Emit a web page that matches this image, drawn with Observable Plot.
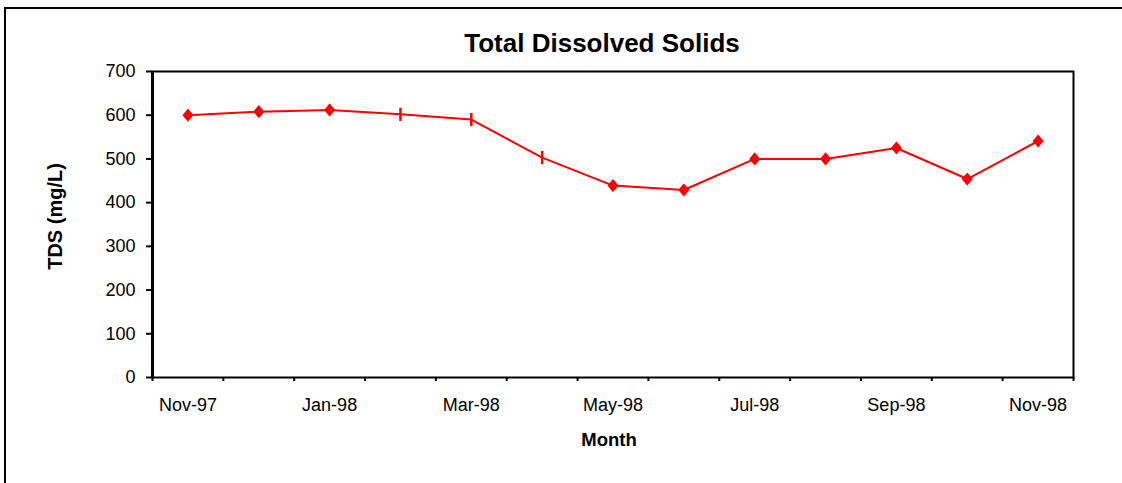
<!DOCTYPE html>
<html>
<head>
<meta charset="utf-8">
<script src="https://cdn.jsdelivr.net/npm/d3@7"></script>
<script src="https://cdn.jsdelivr.net/npm/@observablehq/plot@0.6"></script>
<style>
  html, body { margin: 0; padding: 0; background: #fff; overflow: hidden; }
  #wrap { position: relative; width: 1122px; height: 483px; overflow: hidden; font-family: "Liberation Sans", Arial, sans-serif; }
  #frame { position: absolute; left: 4px; top: 7px; width: 1300px; height: 700px; border-left: 2px solid #000; border-top: 2px solid #000; }
  #title { position: absolute; left: 352px; width: 500px; top: 30px; text-align: center; font-size: 26px; line-height: 1; font-weight: bold; color: #000; }
  #chart { position: absolute; left: 0; top: 0; }
</style>
</head>
<body>
<div id="wrap">
  <div id="frame"></div>
  <div id="chart"></div>
  <div id="title">Total Dissolved Solids</div>
</div>
<script>
const months = ["Nov-97","Dec-97","Jan-98","Feb-98","Mar-98","Apr-98","May-98","Jun-98","Jul-98","Aug-98","Sep-98","Oct-98","Nov-98"];
const tds = [600, 608, 612, 602, 590, 503, 439, 429, 500, 500, 525, 454, 541];
const markers = ["diamond","diamond","diamond","tick","tick","tick","diamond","diamond","diamond","diamond","diamond","diamond","diamond"];
const labeledMonths = ["Nov-97","Jan-98","Mar-98","May-98","Jul-98","Sep-98","Nov-98"];
const yTicks = [0, 100, 200, 300, 400, 500, 600, 700];

const data = months.map((m, i) => ({month: m, pos: i + 0.5, tds: tds[i], marker: markers[i]}));
const boundaries = d3.range(0, months.length + 1);
const labelPositions = labeledMonths.map(m => months.indexOf(m) + 0.5);

const diamondSymbol = {
  draw(ctx, size) {
    const r = Math.sqrt(size / Math.PI);
    ctx.moveTo(0, -r * 1.1);
    ctx.lineTo(r * 0.92, 0);
    ctx.lineTo(0, r * 1.1);
    ctx.lineTo(-r * 0.92, 0);
    ctx.closePath();
  }
};
const tickSymbol = {
  draw(ctx, size) {
    const r = Math.sqrt(size / Math.PI);
    ctx.moveTo(0, -r * 1.1);
    ctx.lineTo(0, r * 1.1);
  }
};

const red = "#ff0000";

const chart = Plot.plot({
  width: 1122,
  height: 483,
  marginLeft: 152,
  marginRight: 49,
  marginTop: 71,
  marginBottom: 106,
  style: {fontFamily: "'Liberation Sans', Arial, sans-serif", fontSize: "18px", color: "#000", background: "transparent"},
  x: {type: "linear", domain: [0, months.length]},
  y: {domain: [0, 700]},
  marks: [
    Plot.axisY({ticks: yTicks, tickSize: 6, tickPadding: 11, strokeWidth: 2, label: null, fontSize: 18}),
    Plot.axisX({ticks: boundaries, tickSize: 4, strokeWidth: 2, tickFormat: () => "", label: null}),
    Plot.axisX({ticks: labelPositions, tickSize: 0, tickPadding: 21, tickFormat: p => months[Math.round(p - 0.5)], label: null, fontSize: 18}),
    Plot.frame({stroke: "#000", strokeWidth: 2}),
    Plot.ruleX([0], {stroke: "#000", strokeWidth: 3}),
    Plot.line(data, {x: "pos", y: "tds", stroke: red, strokeWidth: 2}),
    Plot.dot(data.filter(d => d.marker === "diamond"), {x: "pos", y: "tds", symbol: diamondSymbol, r: 6, fill: red, stroke: "none"}),
    Plot.dot(data.filter(d => d.marker === "tick"), {x: "pos", y: "tds", symbol: tickSymbol, r: 6, stroke: red, strokeWidth: 2.5, fill: "none"}),
    Plot.text(["TDS (mg/L)"], {frameAnchor: "left", textAnchor: "middle", lineAnchor: "middle", rotate: -90, dx: -97, dy: -8, fontWeight: "bold", fontSize: 20, fill: "#000"}),
    Plot.text(["Month"], {frameAnchor: "bottom", textAnchor: "middle", lineAnchor: "middle", dx: -4, dy: 63, fontWeight: "bold", fontSize: 18.5, fill: "#000"})
  ]
});
document.getElementById("chart").appendChild(chart);
</script>
</body>
</html>
